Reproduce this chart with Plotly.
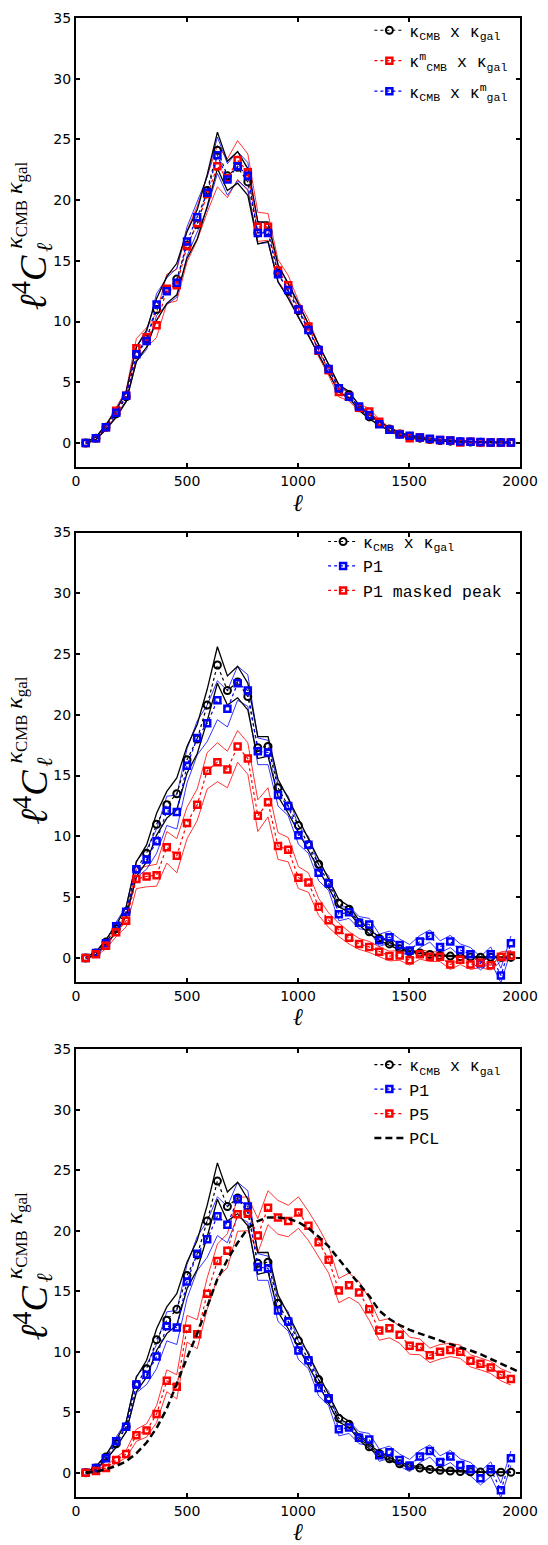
import plotly.graph_objects as go

# ---------------- data ----------------
ell = [44, 90, 135, 181, 226, 272, 318, 363, 409, 454, 500, 546, 591, 637, 682,
       728, 774, 819, 865, 910, 956, 1002, 1047, 1093, 1138, 1184, 1230, 1275,
       1321, 1366, 1412, 1458, 1503, 1549, 1594, 1640, 1686, 1731, 1777, 1822,
       1868, 1914, 1959]

# kappa_CMB x kappa_gal (black circles, all panels)
cross = [0.0, 0.4, 1.3, 2.4, 3.8, 7.3, 8.6, 11.0, 12.6, 13.5, 16.3, 18.0, 20.8, 24.1, 22.0,
         22.7, 21.5, 17.3, 17.4, 14.0, 12.5, 10.9, 9.3, 7.7, 6.1, 4.5, 4.0, 2.9, 2.15, 1.6,
         1.15, 0.75, 0.55, 0.4, 0.28, 0.2, 0.15, 0.1, 0.08, 0.06, 0.05, 0.05, 0.04]
cross_err = [0.05, 0.1, 0.2, 0.3, 0.4, 0.6, 0.7, 0.9, 1.1, 1.3, 1.1, 1.2, 1.3, 1.5, 1.2,
             1.3, 1.1, 0.9, 0.8, 0.7, 0.6, 0.55, 0.5, 0.4, 0.35, 0.3, 0.25, 0.2, 0.17, 0.14,
             0.12, 0.1, 0.08, 0.07, 0.06, 0.05, 0.05, 0.04, 0.04, 0.03, 0.03, 0.03, 0.03]

# kappa^m_CMB x kappa_gal (red squares, panel 1)
cmbm = [0.0, 0.4, 1.3, 2.65, 3.9, 7.8, 8.7, 9.7, 12.7, 13.0, 16.2, 18.1, 20.5, 22.8, 21.8,
        23.3, 22.3, 17.8, 17.8, 14.2, 13.0, 11.0, 9.6, 7.6, 6.0, 4.2, 3.8, 2.9, 2.6, 1.75,
        1.1, 0.75, 0.4, 0.45, 0.3, 0.25, 0.2, 0.05, 0.1, 0.05, 0.05, 0.02, 0.02]
cmbm_err = [0.05, 0.1, 0.2, 0.35, 0.45, 0.8, 0.8, 1.0, 1.2, 1.3, 1.3, 1.4, 1.5, 1.7, 1.6,
            1.6, 1.5, 1.2, 1.1, 0.9, 0.8, 0.7, 0.6, 0.5, 0.45, 0.4, 0.35, 0.3, 0.25, 0.2,
            0.17, 0.14, 0.12, 0.1, 0.08, 0.07, 0.06, 0.05, 0.05, 0.04, 0.04, 0.03, 0.03]

# kappa_CMB x kappa^m_gal (blue squares, panel 1)
galm = [0.0, 0.4, 1.3, 2.5, 3.9, 7.3, 8.4, 11.4, 12.5, 13.2, 16.6, 18.6, 20.6, 23.7, 21.7,
        22.8, 22.0, 17.3, 17.3, 13.9, 12.6, 11.0, 9.3, 7.65, 6.1, 4.5, 3.8, 3.0, 2.3, 1.55,
        1.1, 0.7, 0.6, 0.45, 0.35, 0.25, 0.2, 0.12, 0.1, 0.08, 0.05, 0.04, 0.03]
galm_err = [0.05, 0.1, 0.2, 0.3, 0.4, 0.6, 0.7, 0.9, 1.1, 1.2, 1.2, 1.2, 1.3, 1.5, 1.3,
            1.2, 1.1, 0.9, 0.8, 0.7, 0.6, 0.55, 0.5, 0.4, 0.35, 0.3, 0.25, 0.2, 0.17, 0.14,
            0.12, 0.1, 0.08, 0.07, 0.06, 0.05, 0.05, 0.04, 0.04, 0.03, 0.03, 0.03, 0.03]

# P1 (blue squares, panels 2 and 3)
p1 = [0.0, 0.4, 1.2, 2.6, 3.8, 7.3, 8.1, 9.6, 12.1, 12.0, 15.8, 18.1, 19.3, 21.2, 20.5,
      22.6, 22.0, 17.0, 16.9, 13.4, 12.5, 10.1, 9.3, 7.0, 6.15, 3.6, 3.75, 2.9, 2.75, 1.45,
      1.7, 1.05, 0.6, 1.35, 1.8, 0.9, 1.35, 0.65, 0.3, -0.45, 0.3, -1.45, 1.2]
p1_err = [0.05, 0.15, 0.25, 0.35, 0.45, 0.7, 0.8, 1.0, 1.2, 1.4, 1.4, 1.4, 1.5, 1.6, 1.5,
          1.4, 1.3, 1.1, 1.0, 0.9, 0.8, 0.75, 0.7, 0.65, 0.6, 0.55, 0.5, 0.5, 0.5, 0.5,
          0.5, 0.5, 0.5, 0.5, 0.5, 0.5, 0.5, 0.5, 0.55, 0.55, 0.6, 0.6, 0.6]

# P1 masked peak (red squares, panel 2)
p1m = [0.0, 0.3, 1.0, 2.1, 3.05, 6.5, 6.7, 6.8, 9.1, 8.4, 11.1, 12.6, 15.4, 16.1, 15.5,
       17.4, 16.4, 11.7, 12.8, 9.2, 8.9, 6.6, 6.2, 4.2, 3.1, 2.3, 1.65, 1.15, 0.9, 0.5,
       0.15, 0.2, -0.2, 0.3, 0.1, 0.1, -0.55, -0.15, -0.55, -0.4, -0.6, 0.1, 0.2]
p1m_err = [0.05, 0.15, 0.25, 0.35, 0.5, 0.8, 0.85, 0.9, 1.3, 1.4, 1.3, 1.3, 1.5, 1.6, 1.5,
           1.3, 1.3, 1.3, 1.2, 1.1, 1.0, 0.9, 0.8, 0.7, 0.6, 0.55, 0.5, 0.45, 0.45, 0.4,
           0.4, 0.4, 0.4, 0.4, 0.4, 0.4, 0.4, 0.4, 0.4, 0.4, 0.4, 0.4, 0.4]

# P5 (red squares, panel 3)
p5 = [0.0, 0.15, 0.4, 1.05, 1.55, 3.1, 3.5, 4.85, 7.6, 7.1, 11.9, 11.45, 14.8, 17.5, 18.35,
      21.35, 21.4, 19.6, 21.9, 21.1, 20.8, 21.5, 20.4, 19.05, 17.6, 15.05, 15.5, 14.9, 13.5,
      11.75, 11.95, 11.4, 10.5, 10.4, 9.7, 10.0, 10.15, 10.0, 9.25, 9.0, 8.7, 8.1, 7.75]
p5_err = [0.05, 0.1, 0.15, 0.25, 0.3, 0.5, 0.55, 0.7, 0.9, 1.0, 1.1, 1.2, 1.3, 1.4, 1.4,
          1.4, 1.4, 1.4, 1.4, 1.4, 1.3, 1.3, 1.2, 1.2, 1.1, 1.0, 1.0, 0.9, 0.9, 0.8,
          0.8, 0.7, 0.7, 0.65, 0.6, 0.6, 0.55, 0.55, 0.5, 0.5, 0.5, 0.5, 0.5]

# PCL (black dashed, panel 3)
pcl_ell = ell + [2000]
pcl = [0.0, 0.1, 0.3, 0.55, 0.95, 1.6, 2.5, 3.7, 5.3, 7.4, 9.5, 11.5, 13.8, 16.0, 17.6,
       19.0, 20.2, 20.8, 21.1, 21.1, 21.0, 20.7, 20.2, 19.5, 18.7, 17.6, 16.6, 15.6, 14.6,
       13.4, 12.7, 12.2, 11.8, 11.5, 11.2, 10.9, 10.65, 10.35, 10.1, 9.8, 9.4, 9.0, 8.6, 8.3]

x_ticks = [0, 500, 1000, 1500, 2000]
y_ticks = [0, 5, 10, 15, 20, 25, 30, 35]

# ---------------- layout geometry (pixels) ----------------
W, H = 548, 1545
ML, MR, MT, MB = 76, 21, 10, 48
PW, PH = W - ML - MR, H - MT - MB


def px_x(px):
    return (px - ML) / PW


def px_y(py):
    return (H - MB - py) / PH


panels = [(10, 461.7), (527.3, 979.4), (1046.7, 1497)]  # top, bottom pixel rows

BLACK, RED, BLUE = "#000000", "#ff0000", "#0000ff"
fig = go.Figure()


def band(values, errs, color, width, ax):
    xa, ya = ax
    for sgn in (1, -1):
        fig.add_trace(go.Scatter(
            x=ell, y=[v + sgn * e for v, e in zip(values, errs)],
            mode="lines", line=dict(color=color, width=width),
            showlegend=False, hoverinfo="skip", xaxis=xa, yaxis=ya))


def points(values, color, symbol, name, ax, leg, rank, size=6, lw=2.5):
    xa, ya = ax
    fig.add_trace(go.Scatter(
        x=ell, y=values, mode="lines+markers", name=name,
        line=dict(color=color, width=1.2, dash="dot"),
        marker=dict(symbol=symbol, size=size, color=color,
                    line=dict(color=color, width=lw)),
        legend=leg, legendrank=rank, legendgroup=leg + name,
        xaxis=xa, yaxis=ya))


ax1, ax2, ax3 = ("x", "y"), ("x2", "y2"), ("x3", "y3")

lab_cross = "κ<sub>CMB</sub> x κ<sub>gal</sub>"

# panel 1
band(cmbm, cmbm_err, RED, 0.8, ax1)
band(galm, galm_err, BLUE, 0.8, ax1)
band(cross, cross_err, BLACK, 1.3, ax1)
points(cross, BLACK, "circle-open", lab_cross, ax1, "legend", 1, size=7, lw=2)
points(cmbm, RED, "square-open", "κ<sup>m</sup><sub>CMB</sub> x κ<sub>gal</sub>", ax1, "legend", 2)
points(galm, BLUE, "square-open", "κ<sub>CMB</sub> x κ<sup>m</sup><sub>gal</sub>", ax1, "legend", 3)

# panel 2
band(p1m, p1m_err, RED, 0.8, ax2)
band(p1, p1_err, BLUE, 0.8, ax2)
band(cross, cross_err, BLACK, 1.3, ax2)
points(cross, BLACK, "circle-open", lab_cross, ax2, "legend2", 1, size=7, lw=2)
points(p1, BLUE, "square-open", "P1", ax2, "legend2", 2)
points(p1m, RED, "square-open", "P1 masked peak", ax2, "legend2", 3)

# panel 3
band(p1, p1_err, BLUE, 0.8, ax3)
band(p5, p5_err, RED, 0.8, ax3)
band(cross, cross_err, BLACK, 1.3, ax3)
points(cross, BLACK, "circle-open", lab_cross, ax3, "legend3", 1, size=7, lw=2)
points(p1, BLUE, "square-open", "P1", ax3, "legend3", 2)
points(p5, RED, "square-open", "P5", ax3, "legend3", 3)
fig.add_trace(go.Scatter(
    x=pcl_ell, y=pcl, mode="lines", name="PCL",
    line=dict(color=BLACK, width=2.5, dash="7px,4px"),
    legend="legend3", legendrank=4, legendgroup="legend3PCL",
    xaxis="x3", yaxis="y3"))

# ---------------- axes ----------------
tickfont = dict(family="DejaVu Sans", size=14, color="black")
common = dict(showline=True, linecolor="black", linewidth=2, mirror="ticks",
              ticks="inside", ticklen=4, tickwidth=2, tickcolor="black",
              showgrid=False, zeroline=False, tickfont=tickfont)

layout = dict(
    width=W, height=H, margin=dict(l=ML, r=MR, t=MT, b=MB),
    paper_bgcolor="white", plot_bgcolor="white", showlegend=True,
)
for i, (top, bot) in enumerate(panels, start=1):
    sfx = "" if i == 1 else str(i)
    layout["xaxis" + sfx] = dict(range=[0, 2000], tickvals=x_ticks, domain=[0, 1],
                                 anchor="y" + sfx, **common)
    layout["yaxis" + sfx] = dict(range=[-2, 35], tickvals=y_ticks,
                                 domain=[px_y(bot), px_y(top)],
                                 anchor="x" + sfx, **common)

legfont = dict(family="Liberation Mono", size=16.5, color="black")
layout["legend"] = dict(x=px_x(374), y=px_y(5), xanchor="left", yanchor="top",
                        bgcolor="rgba(0,0,0,0)", font=legfont, tracegroupgap=6)
layout["legend2"] = dict(x=px_x(327), y=px_y(519), xanchor="left", yanchor="top",
                         bgcolor="rgba(0,0,0,0)", font=legfont, tracegroupgap=0)
layout["legend3"] = dict(x=px_x(374), y=px_y(1045), xanchor="left", yanchor="top",
                         bgcolor="rgba(0,0,0,0)", font=legfont, tracegroupgap=0)

# ---------------- axis titles as annotations ----------------
serif = "Liberation Serif, DejaVu Serif, serif"
ann = []
for top, bot in panels:
    c = (top + bot) / 2
    ann.append(dict(x=px_x(30), y=px_y(c + 40), xref="paper", yref="paper",
                    text="<i>ℓ</i><sup>4</sup><i>C</i>", textangle=-90, showarrow=False,
                    xanchor="center", yanchor="middle",
                    font=dict(family=serif, size=38, color="black")))
    ann.append(dict(x=px_x(44), y=px_y(c + 4), xref="paper", yref="paper",
                    text="<i>ℓ</i>", textangle=-90, showarrow=False,
                    xanchor="center", yanchor="middle",
                    font=dict(family=serif, size=22, color="black")))
    ann.append(dict(x=px_x(15), y=px_y(c - 38), xref="paper", yref="paper",
                    text="<i>κ</i><sub>CMB</sub> <i>κ</i><sub>gal</sub>", textangle=-90,
                    showarrow=False, xanchor="center", yanchor="middle",
                    font=dict(family=serif, size=24, color="black")))
    ann.append(dict(x=px_x(301.5), y=px_y(bot + 35), xref="paper", yref="paper",
                    text="<i>ℓ</i>", showarrow=False, xanchor="center", yanchor="middle",
                    height=21, valign="middle", borderpad=0,
                    font=dict(family=serif, size=24, color="black")))
layout["annotations"] = ann

fig.update_layout(**layout)
fig.write_html("out.html",
               config={"displayModeBar": False},
               post_script="document.body.style.margin='0px';"
                           "document.body.style.overflow='hidden';")
